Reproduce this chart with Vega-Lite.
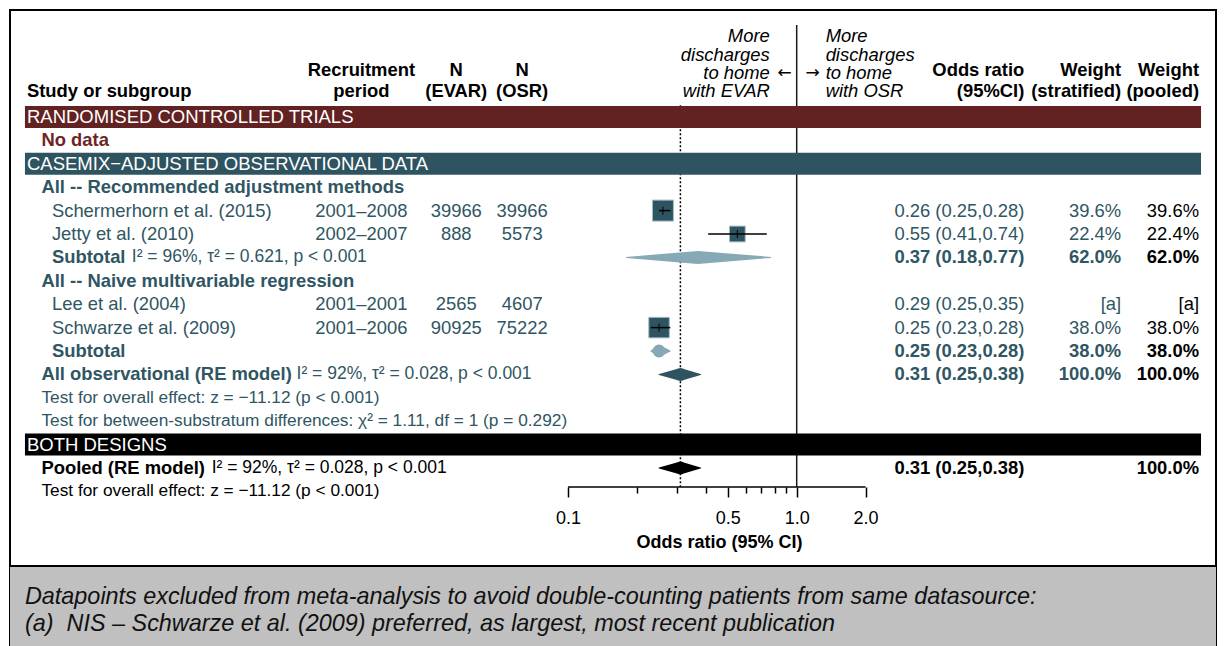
{
  "$schema": "https://vega.github.io/schema/vega-lite/v6.json",
  "width": 1224,
  "height": 646,
  "autosize": {"type": "fit", "contains": "padding"},
  "padding": {"left": 9, "right": 7, "top": 10, "bottom": 0},
  "background": "white",
  "config": {"view": {"stroke": "#000000", "strokeWidth": 2}, "text": {"font": "Liberation Sans"}},
  "resolve": {"scale": {"size": "independent"}, "axis": {"x": "independent"}},
  "datasets": {
    "refs": [{"null_or": 1, "axis_lo": 0.1, "axis_hi": 2}],
    "footnote": [
      {"row": 20.51, "text": "Datapoints excluded from meta-analysis to avoid double-counting patients from same datasource:"},
      {"row": 21.67, "text": "(a)\u00a0\u00a0NIS – Schwarze et al. (2009) preferred, as largest, most recent publication"}
    ],
    "rows": [
      {"row": -3.45, "kind": "note", "section": "header", "note_evar": "More", "note_osr": "More"},
      {"row": -2.67, "kind": "note", "section": "header", "note_evar": "discharges", "note_osr": "discharges"},
      {"row": -2.0, "kind": "header", "section": "header", "period": "Recruitment", "n_evar": "N", "n_osr": "N", "or_text": "Odds ratio", "w_strat": "Weight", "w_pool": "Weight"},
      {"row": -1.9, "kind": "note", "section": "header", "note_evar": "to home", "note_osr": "to home", "arrow_evar": "←", "arrow_osr": "→"},
      {"row": -1.11, "kind": "header", "section": "header", "label": "Study or subgroup", "note_evar": "with EVAR", "note_osr": "with OSR", "period": "period", "n_evar": "(EVAR)", "n_osr": "(OSR)", "or_text": "(95%CI)", "w_strat": "(stratified)", "w_pool": "(pooled)"},
      {"row": 0, "kind": "band", "section": "rct", "label": "RANDOMISED CONTROLLED TRIALS"},
      {"row": 1, "kind": "nodata", "section": "rct", "label": "No data"},
      {"row": 2, "kind": "band", "section": "obs", "label": "CASEMIX−ADJUSTED OBSERVATIONAL DATA"},
      {"row": 3, "kind": "group", "section": "obs", "label": "All -- Recommended adjustment methods"},
      {"row": 4, "kind": "study", "section": "obs", "label": "Schermerhorn et al. (2015)", "period": "2001–2008", "n_evar": 39966, "n_osr": 39966, "or": 0.26, "lo": 0.25, "hi": 0.28, "or_text": "0.26 (0.25,0.28)", "weight": 39.6, "w_strat": "39.6%", "w_pool": "39.6%"},
      {"row": 5, "kind": "study", "section": "obs", "label": "Jetty et al. (2010)", "period": "2002–2007", "n_evar": 888, "n_osr": 5573, "or": 0.55, "lo": 0.41, "hi": 0.74, "or_text": "0.55 (0.41,0.74)", "weight": 22.4, "w_strat": "22.4%", "w_pool": "22.4%"},
      {"row": 6, "kind": "subtotal", "section": "obs", "label": "Subtotal", "stats": "I² = 96%, τ² = 0.621, p < 0.001", "or": 0.37, "lo": 0.18, "hi": 0.77, "or_text": "0.37 (0.18,0.77)", "w_strat": "62.0%", "w_pool": "62.0%"},
      {"row": 7, "kind": "group", "section": "obs", "label": "All -- Naive multivariable regression"},
      {"row": 8, "kind": "study", "section": "obs", "label": "Lee et al. (2004)", "period": "2001–2001", "n_evar": 2565, "n_osr": 4607, "or": 0.29, "lo": 0.25, "hi": 0.35, "or_text": "0.29 (0.25,0.35)", "w_strat": "[a]", "w_pool": "[a]"},
      {"row": 9, "kind": "study", "section": "obs", "label": "Schwarze et al. (2009)", "period": "2001–2006", "n_evar": 90925, "n_osr": 75222, "or": 0.25, "lo": 0.23, "hi": 0.28, "or_text": "0.25 (0.23,0.28)", "weight": 38.0, "w_strat": "38.0%", "w_pool": "38.0%"},
      {"row": 10, "kind": "subtotal", "section": "obs", "label": "Subtotal", "or": 0.25, "lo": 0.23, "hi": 0.28, "or_text": "0.25 (0.23,0.28)", "w_strat": "38.0%", "w_pool": "38.0%"},
      {"row": 11, "kind": "overall", "section": "obs", "label": "All observational (RE model)", "stats": "I² = 92%, τ² = 0.028, p < 0.001", "or": 0.31, "lo": 0.25, "hi": 0.38, "or_text": "0.31 (0.25,0.38)", "w_strat": "100.0%", "w_pool": "100.0%"},
      {"row": 12, "kind": "test", "section": "obs", "label": "Test for overall effect: z = −11.12 (p < 0.001)"},
      {"row": 13, "kind": "test", "section": "obs", "label": "Test for between-substratum differences: χ² = 1.11, df = 1 (p = 0.292)"},
      {"row": 14, "kind": "band", "section": "both", "label": "BOTH DESIGNS"},
      {"row": 15, "kind": "pooled", "section": "both", "label": "Pooled (RE model)", "stats": "I² = 92%, τ² = 0.028, p < 0.001", "or": 0.31, "lo": 0.25, "hi": 0.38, "or_text": "0.31 (0.25,0.38)", "w_pool": "100.0%"},
      {"row": 16, "kind": "test", "section": "both", "label": "Test for overall effect: z = −11.12 (p < 0.001)"}
    ]
  },
  "layer": [
    {
      "data": {"name": "refs"},
      "mark": {"type": "rule", "color": "#1a1a1a", "strokeWidth": 1.5},
      "encoding": {
        "x": {
          "field": "null_or", "type": "quantitative",
          "scale": {"type": "log", "domain": [0.00036225, 68.24], "nice": false},
          "axis": {
            "orient": "bottom", "offset": -159, "domain": false, "grid": false,
            "values": [0.2, 0.3, 0.4, 0.6, 0.7, 0.8, 0.9],
            "tickColor": "#000000", "tickWidth": 1.5, "tickSize": 6,
            "labels": false, "title": null
          }
        },
        "y": {"datum": -3.93, "type": "quantitative", "scale": {"domain": [-4.5726, 22.6068], "reverse": true, "nice": false, "zero": false}, "axis": null},
        "y2": {"datum": 15.81}
      }
    },
    {
      "data": {"name": "rows"},
      "transform": [{"filter": "datum.kind == 'pooled'"}],
      "mark": {"type": "rule", "color": "#000000", "strokeWidth": 1.5, "strokeDash": [2, 2]},
      "encoding": {
        "x": {"field": "or", "type": "quantitative", "scale": {"type": "log", "domain": [0.00036225, 68.24], "nice": false}, "axis": null},
        "y": {"datum": -0.5, "type": "quantitative", "scale": {"domain": [-4.5726, 22.6068], "reverse": true, "nice": false, "zero": false}, "axis": null},
        "y2": {"datum": 15.81}
      }
    },
    {
      "data": {"name": "refs"},
      "mark": {"type": "rule", "color": "#000000", "strokeWidth": 1.5},
      "encoding": {
        "x": {
          "field": "axis_lo", "type": "quantitative",
          "scale": {"type": "log", "domain": [0.00036225, 68.24], "nice": false},
          "axis": {
            "orient": "bottom", "offset": -159, "domain": false, "grid": false,
            "values": [0.1, 0.5, 1, 2],
            "tickColor": "#000000", "tickWidth": 1.5, "tickSize": 10,
            "labelExpr": "datum.value == 0.1 ? '0.1' : datum.value == 0.5 ? '0.5' : datum.value == 1 ? '1.0' : '2.0'",
            "labelFont": "Liberation Sans", "labelFontSize": 18, "labelColor": "#000000", "labelPadding": 12,
            "labelOverlap": false, "labelFlush": false, "labelBound": false,
            "title": "Odds ratio (95% CI)", "titleFont": "Liberation Sans", "titleFontSize": 18, "titleFontWeight": "bold", "titleColor": "#000000",
            "titleX": 709, "titleY": 55, "titleBaseline": "middle", "titleAlign": "center"
          }
        },
        "x2": {"field": "axis_hi"},
        "y": {"datum": 15.81, "type": "quantitative", "scale": {"domain": [-4.5726, 22.6068], "reverse": true, "nice": false, "zero": false}, "axis": null}
      }
    },
    {
      "data": {"name": "rows"},
      "transform": [{"filter": "datum.kind == 'band'"}],
      "mark": {"type": "rect", "yOffset": -11, "y2Offset": 11},
      "encoding": {
        "x": {"datum": 0.00042113, "type": "quantitative", "scale": {"type": "log", "domain": [0.00036225, 68.24], "nice": false}, "axis": null},
        "x2": {"datum": 58.683},
        "y": {"field": "row", "type": "quantitative", "scale": {"domain": [-4.5726, 22.6068], "reverse": true, "nice": false, "zero": false}, "axis": null},
        "y2": {"field": "row"},
        "fill": {"field": "section", "type": "nominal", "scale": {"domain": ["rct", "obs", "both", "subtotal", "overall", "pooled"], "range": ["#632222", "#2f5461", "#000000", "#87a9b6", "#2f5461", "#000000"]}, "legend": null}
      }
    },
    {
      "data": {"name": "footnote"},
      "transform": [{"aggregate": [{"op": "min", "field": "row", "as": "top"}, {"op": "max", "field": "row", "as": "bottom"}]}],
      "mark": {"type": "rect", "color": "#c0c0c0", "yOffset": -31, "y2Offset": 22},
      "encoding": {
        "y": {"field": "top", "type": "quantitative", "scale": {"domain": [-4.5726, 22.6068], "reverse": true, "nice": false, "zero": false}, "axis": null},
        "y2": {"field": "bottom"}
      }
    },
    {
      "data": {"name": "footnote"},
      "transform": [{"aggregate": [{"op": "min", "field": "row", "as": "top"}]}],
      "mark": {"type": "rule", "color": "#000000", "strokeWidth": 2, "yOffset": -31},
      "encoding": {
        "y": {"field": "top", "type": "quantitative", "scale": {"domain": [-4.5726, 22.6068], "reverse": true, "nice": false, "zero": false}, "axis": null}
      }
    },
    {
      "data": {"name": "footnote"},
      "mark": {"type": "text", "align": "left", "baseline": "middle", "fontSize": 23.4, "fontStyle": "italic", "color": "#111111"},
      "encoding": {
        "x": {"datum": 0.00042113, "type": "quantitative", "scale": {"type": "log", "domain": [0.00036225, 68.24], "nice": false}, "axis": null},
        "y": {"field": "row", "type": "quantitative", "scale": {"domain": [-4.5726, 22.6068], "reverse": true, "nice": false, "zero": false}, "axis": null},
        "text": {"field": "text"}
      }
    },
    {
      "data": {"name": "rows"},
      "transform": [{"filter": "datum.weight > 0"}],
      "mark": {"type": "point", "shape": "square", "filled": true, "fill": "#2f5461", "stroke": "#a3bcc5", "strokeWidth": 1, "opacity": 1},
      "encoding": {
        "x": {"field": "or", "type": "quantitative", "scale": {"type": "log", "domain": [0.00036225, 68.24], "nice": false}, "axis": null},
        "y": {"field": "row", "type": "quantitative", "scale": {"domain": [-4.5726, 22.6068], "reverse": true, "nice": false, "zero": false}, "axis": null},
        "size": {"field": "weight", "type": "quantitative", "scale": {"domain": [0, 100], "range": [0, 1110]}, "legend": null}
      }
    },
    {
      "data": {"name": "rows"},
      "transform": [{"filter": "datum.weight > 0"}],
      "mark": {"type": "rule", "color": "#000000", "strokeWidth": 1.5},
      "encoding": {
        "x": {"field": "lo", "type": "quantitative", "scale": {"type": "log", "domain": [0.00036225, 68.24], "nice": false}, "axis": null},
        "x2": {"field": "hi"},
        "y": {"field": "row", "type": "quantitative", "scale": {"domain": [-4.5726, 22.6068], "reverse": true, "nice": false, "zero": false}, "axis": null}
      }
    },
    {
      "data": {"name": "rows"},
      "transform": [{"filter": "datum.weight > 0"}],
      "mark": {"type": "point", "shape": "M0,-1L0,1", "filled": false, "stroke": "#000000", "strokeWidth": 1, "size": 64, "opacity": 1},
      "encoding": {
        "x": {"field": "or", "type": "quantitative", "scale": {"type": "log", "domain": [0.00036225, 68.24], "nice": false}, "axis": null},
        "y": {"field": "row", "type": "quantitative", "scale": {"domain": [-4.5726, 22.6068], "reverse": true, "nice": false, "zero": false}, "axis": null}
      }
    },
    {
      "data": {"name": "rows"},
      "transform": [
        {"filter": "datum.kind == 'subtotal' || datum.kind == 'overall' || datum.kind == 'pooled'"},
        {"fold": ["lo", "or", "hi"], "as": ["vtx", "val"]}
      ],
      "mark": {"type": "trail"},
      "encoding": {
        "x": {"field": "val", "type": "quantitative", "scale": {"type": "log", "domain": [0.00036225, 68.24], "nice": false}, "axis": null},
        "y": {"field": "row", "type": "quantitative", "scale": {"domain": [-4.5726, 22.6068], "reverse": true, "nice": false, "zero": false}, "axis": null},
        "detail": {"field": "row", "type": "nominal"},
        "order": {"field": "val", "type": "quantitative"},
        "size": {"field": "vtx", "type": "nominal", "scale": {"type": "ordinal", "domain": ["lo", "or", "hi"], "range": [0, 13, 0]}, "legend": null},
        "fill": {"field": "kind", "type": "nominal", "scale": {"domain": ["rct", "obs", "both", "subtotal", "overall", "pooled"], "range": ["#632222", "#2f5461", "#000000", "#87a9b6", "#2f5461", "#000000"]}, "legend": null}
      }
    },
    {
      "data": {"name": "rows"},
      "transform": [{"filter": "datum.kind == 'band'"}],
      "mark": {"type": "text", "align": "left", "baseline": "middle", "fontSize": 18.5, "color": "#ffffff"},
      "encoding": {
        "x": {"datum": 0.00042968, "type": "quantitative", "scale": {"type": "log", "domain": [0.00036225, 68.24], "nice": false}, "axis": null},
        "y": {"field": "row", "type": "quantitative", "scale": {"domain": [-4.5726, 22.6068], "reverse": true, "nice": false, "zero": false}, "axis": null},
        "text": {"field": "label"}
      }
    },
    {
      "data": {"name": "rows"},
      "transform": [{"filter": "datum.kind == 'header' && isValid(datum.label)"}],
      "mark": {"type": "text", "align": "left", "baseline": "middle", "fontSize": 18.4, "fontWeight": "bold", "color": "#000000"},
      "encoding": {
        "x": {"datum": 0.00042968, "type": "quantitative", "scale": {"type": "log", "domain": [0.00036225, 68.24], "nice": false}, "axis": null},
        "y": {"field": "row", "type": "quantitative", "scale": {"domain": [-4.5726, 22.6068], "reverse": true, "nice": false, "zero": false}, "axis": null},
        "text": {"field": "label"}
      }
    },
    {
      "data": {"name": "rows"},
      "transform": [{"filter": "datum.kind == 'nodata' || datum.kind == 'group' || datum.kind == 'overall' || datum.kind == 'pooled'"}],
      "mark": {"type": "text", "align": "left", "baseline": "middle", "fontSize": 18.4, "fontWeight": "bold"},
      "encoding": {
        "x": {"datum": 0.00049722, "type": "quantitative", "scale": {"type": "log", "domain": [0.00036225, 68.24], "nice": false}, "axis": null},
        "y": {"field": "row", "type": "quantitative", "scale": {"domain": [-4.5726, 22.6068], "reverse": true, "nice": false, "zero": false}, "axis": null},
        "text": {"field": "label"},
        "color": {"field": "section", "type": "nominal", "scale": {"domain": ["header", "rct", "obs", "both"], "range": ["#000000", "#6e2525", "#2f5663", "#000000"]}, "legend": null}
      }
    },
    {
      "data": {"name": "rows"},
      "transform": [{"filter": "datum.kind == 'study'"}],
      "mark": {"type": "text", "align": "left", "baseline": "middle", "fontSize": 18.4},
      "encoding": {
        "x": {"datum": 0.00055259, "type": "quantitative", "scale": {"type": "log", "domain": [0.00036225, 68.24], "nice": false}, "axis": null},
        "y": {"field": "row", "type": "quantitative", "scale": {"domain": [-4.5726, 22.6068], "reverse": true, "nice": false, "zero": false}, "axis": null},
        "text": {"field": "label"},
        "color": {"field": "section", "type": "nominal", "scale": {"domain": ["header", "rct", "obs", "both"], "range": ["#000000", "#6e2525", "#2f5663", "#000000"]}, "legend": null}
      }
    },
    {
      "data": {"name": "rows"},
      "transform": [{"filter": "datum.kind == 'subtotal'"}],
      "mark": {"type": "text", "align": "left", "baseline": "middle", "fontSize": 18.4, "fontWeight": "bold"},
      "encoding": {
        "x": {"datum": 0.00055259, "type": "quantitative", "scale": {"type": "log", "domain": [0.00036225, 68.24], "nice": false}, "axis": null},
        "y": {"field": "row", "type": "quantitative", "scale": {"domain": [-4.5726, 22.6068], "reverse": true, "nice": false, "zero": false}, "axis": null},
        "text": {"field": "label"},
        "color": {"field": "section", "type": "nominal", "scale": {"domain": ["header", "rct", "obs", "both"], "range": ["#000000", "#6e2525", "#2f5663", "#000000"]}, "legend": null}
      }
    },
    {
      "data": {"name": "rows"},
      "transform": [{"filter": "datum.kind == 'test'"}],
      "mark": {"type": "text", "align": "left", "baseline": "middle", "fontSize": 17.3},
      "encoding": {
        "x": {"datum": 0.00049722, "type": "quantitative", "scale": {"type": "log", "domain": [0.00036225, 68.24], "nice": false}, "axis": null},
        "y": {"field": "row", "type": "quantitative", "scale": {"domain": [-4.5726, 22.6068], "reverse": true, "nice": false, "zero": false}, "axis": null},
        "text": {"field": "label"},
        "color": {"field": "section", "type": "nominal", "scale": {"domain": ["header", "rct", "obs", "both"], "range": ["#000000", "#6e2525", "#2f5663", "#000000"]}, "legend": null}
      }
    },
    {
      "data": {"name": "rows"},
      "transform": [{"filter": "datum.kind == 'subtotal' && isValid(datum.stats)"}],
      "mark": {"type": "text", "align": "left", "baseline": "middle", "fontSize": 17.5},
      "encoding": {
        "x": {"datum": 0.0012352, "type": "quantitative", "scale": {"type": "log", "domain": [0.00036225, 68.24], "nice": false}, "axis": null},
        "y": {"field": "row", "type": "quantitative", "scale": {"domain": [-4.5726, 22.6068], "reverse": true, "nice": false, "zero": false}, "axis": null},
        "text": {"field": "stats"},
        "color": {"field": "section", "type": "nominal", "scale": {"domain": ["header", "rct", "obs", "both"], "range": ["#000000", "#6e2525", "#2f5663", "#000000"]}, "legend": null}
      }
    },
    {
      "data": {"name": "rows"},
      "transform": [{"filter": "datum.kind == 'overall'"}],
      "mark": {"type": "text", "align": "left", "baseline": "middle", "fontSize": 17.5},
      "encoding": {
        "x": {"datum": 0.0064905, "type": "quantitative", "scale": {"type": "log", "domain": [0.00036225, 68.24], "nice": false}, "axis": null},
        "y": {"field": "row", "type": "quantitative", "scale": {"domain": [-4.5726, 22.6068], "reverse": true, "nice": false, "zero": false}, "axis": null},
        "text": {"field": "stats"},
        "color": {"field": "section", "type": "nominal", "scale": {"domain": ["header", "rct", "obs", "both"], "range": ["#000000", "#6e2525", "#2f5663", "#000000"]}, "legend": null}
      }
    },
    {
      "data": {"name": "rows"},
      "transform": [{"filter": "datum.kind == 'pooled'"}],
      "mark": {"type": "text", "align": "left", "baseline": "middle", "fontSize": 17.5},
      "encoding": {
        "x": {"datum": 0.0027606, "type": "quantitative", "scale": {"type": "log", "domain": [0.00036225, 68.24], "nice": false}, "axis": null},
        "y": {"field": "row", "type": "quantitative", "scale": {"domain": [-4.5726, 22.6068], "reverse": true, "nice": false, "zero": false}, "axis": null},
        "text": {"field": "stats"},
        "color": {"field": "section", "type": "nominal", "scale": {"domain": ["header", "rct", "obs", "both"], "range": ["#000000", "#6e2525", "#2f5663", "#000000"]}, "legend": null}
      }
    },
    {
      "data": {"name": "rows"},
      "transform": [{"filter": "datum.kind == 'header' && isValid(datum.period)"}],
      "mark": {"type": "text", "align": "center", "baseline": "middle", "fontSize": 18.4, "fontWeight": "bold", "color": "#000000"},
      "encoding": {
        "x": {"datum": 0.012475, "type": "quantitative", "scale": {"type": "log", "domain": [0.00036225, 68.24], "nice": false}, "axis": null},
        "y": {"field": "row", "type": "quantitative", "scale": {"domain": [-4.5726, 22.6068], "reverse": true, "nice": false, "zero": false}, "axis": null},
        "text": {"field": "period"}
      }
    },
    {
      "data": {"name": "rows"},
      "transform": [{"filter": "datum.kind == 'study'"}],
      "mark": {"type": "text", "align": "center", "baseline": "middle", "fontSize": 18.4},
      "encoding": {
        "x": {"datum": 0.012475, "type": "quantitative", "scale": {"type": "log", "domain": [0.00036225, 68.24], "nice": false}, "axis": null},
        "y": {"field": "row", "type": "quantitative", "scale": {"domain": [-4.5726, 22.6068], "reverse": true, "nice": false, "zero": false}, "axis": null},
        "text": {"field": "period"},
        "color": {"field": "section", "type": "nominal", "scale": {"domain": ["header", "rct", "obs", "both"], "range": ["#000000", "#6e2525", "#2f5663", "#000000"]}, "legend": null}
      }
    },
    {
      "data": {"name": "rows"},
      "transform": [{"filter": "datum.kind == 'header' && isValid(datum.n_evar)"}],
      "mark": {"type": "text", "align": "center", "baseline": "middle", "fontSize": 18.4, "fontWeight": "bold", "color": "#000000"},
      "encoding": {
        "x": {"datum": 0.032428, "type": "quantitative", "scale": {"type": "log", "domain": [0.00036225, 68.24], "nice": false}, "axis": null},
        "y": {"field": "row", "type": "quantitative", "scale": {"domain": [-4.5726, 22.6068], "reverse": true, "nice": false, "zero": false}, "axis": null},
        "text": {"field": "n_evar", "type": "nominal"}
      }
    },
    {
      "data": {"name": "rows"},
      "transform": [{"filter": "datum.kind == 'study'"}],
      "mark": {"type": "text", "align": "center", "baseline": "middle", "fontSize": 18.4},
      "encoding": {
        "x": {"datum": 0.032428, "type": "quantitative", "scale": {"type": "log", "domain": [0.00036225, 68.24], "nice": false}, "axis": null},
        "y": {"field": "row", "type": "quantitative", "scale": {"domain": [-4.5726, 22.6068], "reverse": true, "nice": false, "zero": false}, "axis": null},
        "text": {"field": "n_evar", "type": "nominal"},
        "color": {"field": "section", "type": "nominal", "scale": {"domain": ["header", "rct", "obs", "both"], "range": ["#000000", "#6e2525", "#2f5663", "#000000"]}, "legend": null}
      }
    },
    {
      "data": {"name": "rows"},
      "transform": [{"filter": "datum.kind == 'header' && isValid(datum.n_osr)"}],
      "mark": {"type": "text", "align": "center", "baseline": "middle", "fontSize": 18.4, "fontWeight": "bold", "color": "#000000"},
      "encoding": {
        "x": {"datum": 0.062974, "type": "quantitative", "scale": {"type": "log", "domain": [0.00036225, 68.24], "nice": false}, "axis": null},
        "y": {"field": "row", "type": "quantitative", "scale": {"domain": [-4.5726, 22.6068], "reverse": true, "nice": false, "zero": false}, "axis": null},
        "text": {"field": "n_osr", "type": "nominal"}
      }
    },
    {
      "data": {"name": "rows"},
      "transform": [{"filter": "datum.kind == 'study'"}],
      "mark": {"type": "text", "align": "center", "baseline": "middle", "fontSize": 18.4},
      "encoding": {
        "x": {"datum": 0.062974, "type": "quantitative", "scale": {"type": "log", "domain": [0.00036225, 68.24], "nice": false}, "axis": null},
        "y": {"field": "row", "type": "quantitative", "scale": {"domain": [-4.5726, 22.6068], "reverse": true, "nice": false, "zero": false}, "axis": null},
        "text": {"field": "n_osr", "type": "nominal"},
        "color": {"field": "section", "type": "nominal", "scale": {"domain": ["header", "rct", "obs", "both"], "range": ["#000000", "#6e2525", "#2f5663", "#000000"]}, "legend": null}
      }
    },
    {
      "data": {"name": "rows"},
      "transform": [{"filter": "isValid(datum.note_evar)"}],
      "mark": {"type": "text", "align": "right", "baseline": "middle", "fontSize": 18.4, "fontStyle": "italic", "color": "#000000"},
      "encoding": {
        "x": {"datum": 0.7624, "type": "quantitative", "scale": {"type": "log", "domain": [0.00036225, 68.24], "nice": false}, "axis": null},
        "y": {"field": "row", "type": "quantitative", "scale": {"domain": [-4.5726, 22.6068], "reverse": true, "nice": false, "zero": false}, "axis": null},
        "text": {"field": "note_evar"}
      }
    },
    {
      "data": {"name": "rows"},
      "transform": [{"filter": "isValid(datum.note_osr)"}],
      "mark": {"type": "text", "align": "left", "baseline": "middle", "fontSize": 18.4, "fontStyle": "italic", "color": "#000000"},
      "encoding": {
        "x": {"datum": 1.3384, "type": "quantitative", "scale": {"type": "log", "domain": [0.00036225, 68.24], "nice": false}, "axis": null},
        "y": {"field": "row", "type": "quantitative", "scale": {"domain": [-4.5726, 22.6068], "reverse": true, "nice": false, "zero": false}, "axis": null},
        "text": {"field": "note_osr"}
      }
    },
    {
      "data": {"name": "rows"},
      "transform": [{"filter": "isValid(datum.arrow_evar)"}],
      "mark": {"type": "text", "align": "center", "baseline": "middle", "fontSize": 17, "font": "DejaVu Sans", "color": "#000000"},
      "encoding": {
        "x": {"datum": 0.8863, "type": "quantitative", "scale": {"type": "log", "domain": [0.00036225, 68.24], "nice": false}, "axis": null},
        "y": {"field": "row", "type": "quantitative", "scale": {"domain": [-4.5726, 22.6068], "reverse": true, "nice": false, "zero": false}, "axis": null},
        "text": {"field": "arrow_evar"}
      }
    },
    {
      "data": {"name": "rows"},
      "transform": [{"filter": "isValid(datum.arrow_osr)"}],
      "mark": {"type": "text", "align": "center", "baseline": "middle", "fontSize": 17, "font": "DejaVu Sans", "color": "#000000"},
      "encoding": {
        "x": {"datum": 1.1747, "type": "quantitative", "scale": {"type": "log", "domain": [0.00036225, 68.24], "nice": false}, "axis": null},
        "y": {"field": "row", "type": "quantitative", "scale": {"domain": [-4.5726, 22.6068], "reverse": true, "nice": false, "zero": false}, "axis": null},
        "text": {"field": "arrow_osr"}
      }
    },
    {
      "data": {"name": "rows"},
      "transform": [{"filter": "isValid(datum.or_text) && datum.kind != 'study'"}],
      "mark": {"type": "text", "align": "right", "baseline": "middle", "fontSize": 18.4, "fontWeight": "bold"},
      "encoding": {
        "x": {"datum": 9.8999, "type": "quantitative", "scale": {"type": "log", "domain": [0.00036225, 68.24], "nice": false}, "axis": null},
        "y": {"field": "row", "type": "quantitative", "scale": {"domain": [-4.5726, 22.6068], "reverse": true, "nice": false, "zero": false}, "axis": null},
        "text": {"field": "or_text"},
        "color": {"field": "section", "type": "nominal", "scale": {"domain": ["header", "rct", "obs", "both"], "range": ["#000000", "#6e2525", "#2f5663", "#000000"]}, "legend": null}
      }
    },
    {
      "data": {"name": "rows"},
      "transform": [{"filter": "datum.kind == 'study'"}],
      "mark": {"type": "text", "align": "right", "baseline": "middle", "fontSize": 18.4},
      "encoding": {
        "x": {"datum": 9.8999, "type": "quantitative", "scale": {"type": "log", "domain": [0.00036225, 68.24], "nice": false}, "axis": null},
        "y": {"field": "row", "type": "quantitative", "scale": {"domain": [-4.5726, 22.6068], "reverse": true, "nice": false, "zero": false}, "axis": null},
        "text": {"field": "or_text"},
        "color": {"field": "section", "type": "nominal", "scale": {"domain": ["header", "rct", "obs", "both"], "range": ["#000000", "#6e2525", "#2f5663", "#000000"]}, "legend": null}
      }
    },
    {
      "data": {"name": "rows"},
      "transform": [{"filter": "isValid(datum.w_strat) && datum.kind != 'study'"}],
      "mark": {"type": "text", "align": "right", "baseline": "middle", "fontSize": 18.4, "fontWeight": "bold"},
      "encoding": {
        "x": {"datum": 26.256, "type": "quantitative", "scale": {"type": "log", "domain": [0.00036225, 68.24], "nice": false}, "axis": null},
        "y": {"field": "row", "type": "quantitative", "scale": {"domain": [-4.5726, 22.6068], "reverse": true, "nice": false, "zero": false}, "axis": null},
        "text": {"field": "w_strat"},
        "color": {"field": "section", "type": "nominal", "scale": {"domain": ["header", "rct", "obs", "both"], "range": ["#000000", "#6e2525", "#2f5663", "#000000"]}, "legend": null}
      }
    },
    {
      "data": {"name": "rows"},
      "transform": [{"filter": "datum.kind == 'study'"}],
      "mark": {"type": "text", "align": "right", "baseline": "middle", "fontSize": 18.4},
      "encoding": {
        "x": {"datum": 26.256, "type": "quantitative", "scale": {"type": "log", "domain": [0.00036225, 68.24], "nice": false}, "axis": null},
        "y": {"field": "row", "type": "quantitative", "scale": {"domain": [-4.5726, 22.6068], "reverse": true, "nice": false, "zero": false}, "axis": null},
        "text": {"field": "w_strat"},
        "color": {"field": "section", "type": "nominal", "scale": {"domain": ["header", "rct", "obs", "both"], "range": ["#000000", "#6e2525", "#2f5663", "#000000"]}, "legend": null}
      }
    },
    {
      "data": {"name": "rows"},
      "transform": [{"filter": "isValid(datum.w_pool) && datum.kind != 'study'"}],
      "mark": {"type": "text", "align": "right", "baseline": "middle", "fontSize": 18.4, "fontWeight": "bold", "color": "#000000"},
      "encoding": {
        "x": {"datum": 57.515, "type": "quantitative", "scale": {"type": "log", "domain": [0.00036225, 68.24], "nice": false}, "axis": null},
        "y": {"field": "row", "type": "quantitative", "scale": {"domain": [-4.5726, 22.6068], "reverse": true, "nice": false, "zero": false}, "axis": null},
        "text": {"field": "w_pool"}
      }
    },
    {
      "data": {"name": "rows"},
      "transform": [{"filter": "datum.kind == 'study'"}],
      "mark": {"type": "text", "align": "right", "baseline": "middle", "fontSize": 18.4, "color": "#000000"},
      "encoding": {
        "x": {"datum": 57.515, "type": "quantitative", "scale": {"type": "log", "domain": [0.00036225, 68.24], "nice": false}, "axis": null},
        "y": {"field": "row", "type": "quantitative", "scale": {"domain": [-4.5726, 22.6068], "reverse": true, "nice": false, "zero": false}, "axis": null},
        "text": {"field": "w_pool"}
      }
    }
  ]
}
